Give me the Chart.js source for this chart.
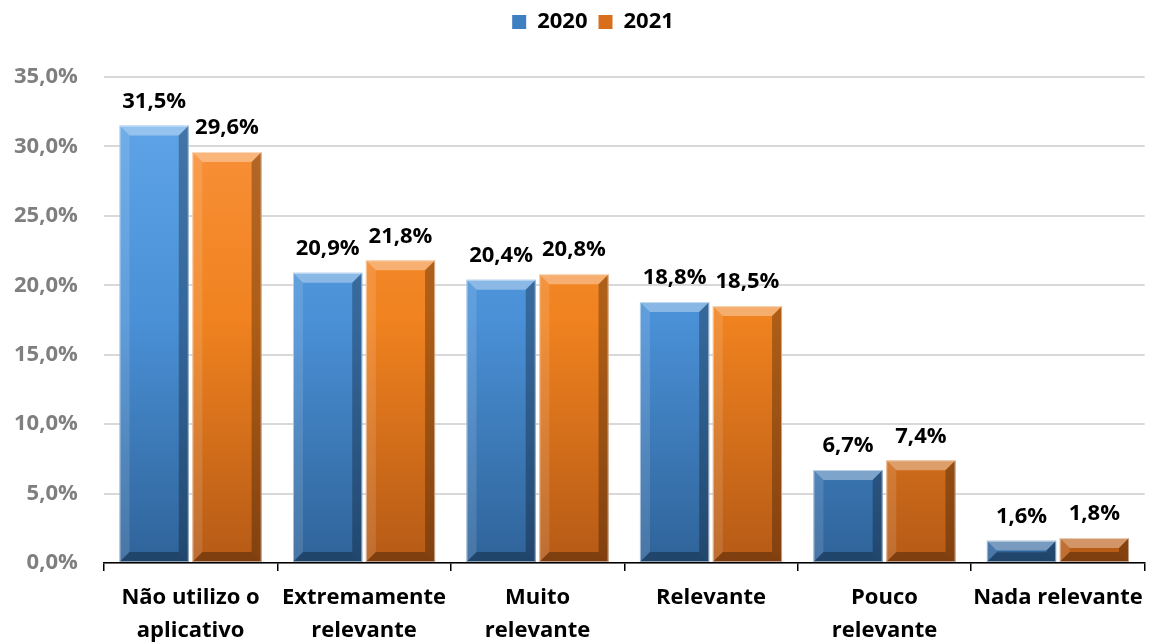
<!DOCTYPE html>
<html><head><meta charset="utf-8">
<script src="https://cdn.jsdelivr.net/npm/chart.js@4/dist/chart.umd.min.js"></script>
<style>html,body{margin:0;padding:0;background:#fff}#wrap{width:1153px;height:643px}</style>
</head><body><div id="wrap"><canvas id="c" width="1153" height="643"></canvas></div>
<script>
const categories = [["Não utilizo o","aplicativo"],["Extremamente","relevante"],["Muito","relevante"],["Relevante"],["Pouco","relevante"],["Nada relevante"]];
const seriesNames = ["2020","2021"];
const values2020 = [31.5,20.9,20.4,18.8,6.7,1.6];
const values2021 = [29.6,21.8,20.8,18.5,7.4,1.8];
const yTicks = {min:0,max:35,step:5};

const FONT = "'Open Sans', sans-serif";
const FS = 22;
const palettes = [
  {top:'#62a8ea', mid:'#4a90d6', bot:'#2f6399', legend:'#3d7fc0'},
  {top:'#fb9440', mid:'#f0821f', bot:'#b55a16', legend:'#d96f1c'}
];
function fillFor(i){
  return function(ctx){
    const ch = ctx.chart; const a = ch.chartArea;
    if(!a) return palettes[i].mid;
    const g = ch.ctx.createLinearGradient(0,a.top,0,a.bottom);
    g.addColorStop(0,palettes[i].top);
    g.addColorStop(0.5,palettes[i].mid);
    g.addColorStop(1,palettes[i].bot);
    return g;
  };
}
const fmt = v => v.toFixed(1).replace('.',',')+'%';

const legendGap = {
  id:'legendGap',
  beforeInit(chart){
    const orig = chart.legend.fit;
    chart.legend.fit = function(){ orig.call(this); this.height += 34; };
  },
  afterLayout(chart){
    chart.legend.left += 48;
  }
};

const bevelPlugin = {
  id:'bevel',
  afterDatasetsDraw(chart){
    const ctx = chart.ctx;
    chart.data.datasets.forEach((ds,di)=>{
      const meta = chart.getDatasetMeta(di);
      meta.data.forEach(bar=>{
        const w = bar.width, l = bar.x-w/2, r = bar.x+w/2, t = bar.y, b = bar.base;
        const h = b-t;
        const bv = Math.min(10, h/2.2);
        ctx.save();
        ctx.beginPath();ctx.moveTo(l,t);ctx.lineTo(r,t);ctx.lineTo(r-bv,t+bv);ctx.lineTo(l+bv,t+bv);ctx.closePath();
        ctx.fillStyle='rgba(255,255,255,0.35)';ctx.fill();
        ctx.beginPath();ctx.moveTo(l,t);ctx.lineTo(l+bv,t+bv);ctx.lineTo(l+bv,b-bv);ctx.lineTo(l,b);ctx.closePath();
        ctx.fillStyle='rgba(255,255,255,0.12)';ctx.fill();
        ctx.beginPath();ctx.moveTo(r,t);ctx.lineTo(r-bv,t+bv);ctx.lineTo(r-bv,b-bv);ctx.lineTo(r,b);ctx.closePath();
        ctx.fillStyle='rgba(0,0,0,0.28)';ctx.fill();
        ctx.beginPath();ctx.moveTo(l,b);ctx.lineTo(r,b);ctx.lineTo(r-bv,b-bv);ctx.lineTo(l+bv,b-bv);ctx.closePath();
        ctx.fillStyle='rgba(0,0,0,0.3)';ctx.fill();
        ctx.strokeStyle='rgba(255,255,255,0.5)';ctx.lineWidth=1;
        ctx.strokeRect(l+0.5,t+0.5,w-1,h-1);
        ctx.restore();
      });
    });
  },
  afterDraw(chart){
    const ctx = chart.ctx;
    ctx.save();
    ctx.font = "bold "+FS+"px "+FONT;
    ctx.fillStyle='#000';ctx.textAlign='center';ctx.textBaseline='bottom';
    chart.data.datasets.forEach((ds,di)=>{
      const meta = chart.getDatasetMeta(di);
      meta.data.forEach((bar,i)=>{
        ctx.fillText(fmt(ds.data[i]), bar.x, bar.y-13);
      });
    });
    ctx.restore();
  }
};

new Chart(document.getElementById('c'),{
  type:'bar',
  data:{
    labels:categories,
    datasets:[
      {label:seriesNames[0],data:values2020,backgroundColor:fillFor(0)},
      {label:seriesNames[1],data:values2021,backgroundColor:fillFor(1)}
    ]
  },
  options:{
    responsive:false,animation:false,
    layout:{padding:{left:-12,right:3,top:0,bottom:-14}},
    categoryPercentage:0.84,barPercentage:0.95,
    plugins:{
      tooltip:{enabled:false},
      legend:{
        position:'top',
        labels:{
          boxWidth:14,boxHeight:14,padding:11,color:'#000',
          font:{family:FONT,size:FS,weight:'bold'},
          generateLabels(chart){
            return chart.data.datasets.map((d,i)=>({text:d.label,fillStyle:palettes[i].legend,strokeStyle:palettes[i].legend,lineWidth:0,datasetIndex:i,hidden:false}));
          }
        }
      }
    },
    scales:{
      y:{
        min:yTicks.min,max:yTicks.max,
        ticks:{stepSize:yTicks.step,color:'#7f7f7f',padding:26,font:{family:FONT,size:FS,weight:'bold'},callback:v=>fmt(v)},
        grid:{color:'#d9d9d9',lineWidth:2,drawTicks:false},
        border:{display:false}
      },
      x:{
        ticks:{color:'#000',padding:10,font:{family:FONT,size:FS,weight:'bold',lineHeight:1.5},maxRotation:0,autoSkip:false},
        grid:{offset:true,drawOnChartArea:false,color:'#000',tickLength:8,lineWidth:1.5},
        border:{display:true,color:'#000',width:1.5}
      }
    }
  },
  plugins:[bevelPlugin,legendGap]
});
</script></body></html>
